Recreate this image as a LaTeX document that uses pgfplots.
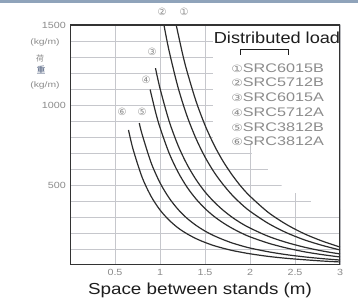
\documentclass[border=0pt]{standalone}
\usepackage{fontspec}
\setmainfont{Liberation Sans}
\newfontfamily\symfont{DejaVu Sans}
\newfontfamily\cjk{Noto Sans CJK JP}
\usepackage{pgfplots}
\pgfplotsset{compat=1.18}
\definecolor{gridc}{HTML}{C6C7CC}
\definecolor{framec}{HTML}{333333}
\definecolor{curvec}{HTML}{2C2C2C}
\definecolor{lbl}{HTML}{8C8C8C}
\definecolor{ttl}{HTML}{1E1E1E}
\definecolor{band}{HTML}{8FA3BA}
\definecolor{kanji}{HTML}{4A5A7A}

\pgfplotstableread{
x y
1.18 1500
1.25 1321
1.3 1211
1.4 1024
1.5 874
1.6 751
1.7 649
1.8 564
1.9 491
2.0 430
2.2 330
2.4 255
2.6 196
2.8 150
3.0 112
}\curveA
\pgfplotstableread{
x y
1.044 1500
1.1 1341
1.2 1111
1.3 932
1.4 790
1.5 675
1.6 581
1.7 504
1.8 438
1.9 383
2.0 336
2.2 261
2.4 203
2.6 158
2.8 123
3.0 94
}\curveB
\pgfplotstableread{
x y
0.95 1230
1.0 1104
1.1 902
1.2 748
1.3 629
1.4 534
1.5 457
1.6 395
1.7 343
1.8 299
1.9 262
2.0 231
2.2 180
2.4 142
2.6 112
2.8 88
3.0 69
}\curveC
\pgfplotstableread{
x y
0.89 1097
0.95 957
1.0 859
1.1 701
1.2 581
1.3 487
1.4 413
1.5 353
1.6 304
1.7 264
1.8 230
1.9 201
2.0 176
2.2 137
2.4 107
2.6 83
2.8 65
3.0 50
}\curveD
\pgfplotstableread{
x y
0.77 887
0.8 819
0.9 641
1.0 514
1.1 420
1.2 348
1.3 292
1.4 248
1.5 212
1.6 183
1.7 159
1.8 138
1.9 121
2.0 106
2.2 83
2.4 65
2.6 51
2.8 40
3.0 31
}\curveE
\pgfplotstableread{
x y
0.65 844
0.7 725
0.8 550
0.9 430
1.0 344
1.1 281
1.2 232
1.3 195
1.4 165
1.5 141
1.6 121
1.7 105
1.8 91
1.9 80
2.0 70
2.2 54
2.4 42
2.6 33
2.8 25
3.0 19
}\curveF

\begin{document}
\begin{tikzpicture}[x=1bp,y=1bp]
\path[use as bounding box] (0,0) rectangle (358,300);
\fill[white] (0,0) rectangle (358,300);
\fill[band] (0,297) rectangle (358,300);
\begin{axis}[
  at={(70bp,35bp)}, anchor=south west,
  scale only axis, width=270bp, height=240bp,
  xmin=0, xmax=3, ymin=0, ymax=1500,
  xtick={0.5,1,1.5,2,2.5,3},
  xticklabels={0.5,1,1.5,2,2.5,3},
  ytick={500,1000,1500},
  yticklabels={500,1000,1500},
  minor ytick={100,200,300,400,600,700,800,900,1100,1200,1300,1400},
  xmajorgrids, ymajorgrids, yminorgrids,
  major grid style={gridc, line width=0.8bp},
  minor grid style={gridc, line width=0.8bp},
  major tick length=0pt, minor tick length=0pt,
  axis line style={draw=none},
  /pgf/number format/assume math mode=true,
  ticklabel style={font=\fontsize{9}{9}\selectfont, text=lbl, xscale=1.2},
  xticklabel style={yshift=-1bp},
  clip=true,
]
\addplot[fill=white, draw=none] coordinates {
 (1.59,1500) (3,1500) (3,350) (2.68,350) (2.68,450) (2.35,450) (2.35,550)
 (2.2,550) (2.2,650) (2.02,650) (2.02,760) (1.59,760) } -- cycle;
\addplot[curvec, line width=1.2bp, smooth] table {\curveA};
\addplot[curvec, line width=1.2bp, smooth] table {\curveB};
\addplot[curvec, line width=1.2bp, smooth] table {\curveC};
\addplot[curvec, line width=1.2bp, smooth] table {\curveD};
\addplot[curvec, line width=1.2bp, smooth] table {\curveE};
\addplot[curvec, line width=1.2bp, smooth] table {\curveF};
\draw[framec, line width=2bp] (rel axis cs:0,0) rectangle (rel axis cs:1,1);
\end{axis}
% legend
\node[text=ttl, font=\fontsize{16}{16}\selectfont, xscale=1.14] at (277,262) {Distributed load};
\draw[ttl, line width=1bp] (240,245) -- (240,250) -- (288,250) -- (288,245);
\begin{scope}[every node/.style={anchor=west, text=lbl, font=\fontsize{12.5}{12.5}\selectfont, xscale=1.3, inner sep=0pt}]
\node at (231,232.0) {{\symfont\fontsize{10}{10}\selectfont ①}SRC6015B};
\node at (231,217.3) {{\symfont\fontsize{10}{10}\selectfont ②}SRC5712B};
\node at (231,202.6) {{\symfont\fontsize{10}{10}\selectfont ③}SRC6015A};
\node at (231,187.9) {{\symfont\fontsize{10}{10}\selectfont ④}SRC5712A};
\node at (231,173.2) {{\symfont\fontsize{10}{10}\selectfont ⑤}SRC3812B};
\node at (231,158.5) {{\symfont\fontsize{10}{10}\selectfont ⑥}SRC3812A};
\end{scope}
% curve labels
\begin{scope}[every node/.style={text=lbl, font=\symfont\fontsize{10}{10}\selectfont, inner sep=0pt}]
\node at (162,288) {②};
\node at (184,288) {①};
\node at (152,248) {③};
\node at (146,220) {④};
\node at (122,188) {⑥};
\node at (142,188) {⑤};
\end{scope}
% y unit labels
\node[text=lbl, font=\fontsize{8}{8}\selectfont, xscale=1.3] at (45,258) {(kg/m)};
\node[text=lbl, font=\cjk\fontsize{8}{8}\selectfont] at (40,242) {荷};
\node[text=kanji, font=\cjk\fontsize{9}{9}\selectfont] at (41,230) {重};
\node[text=lbl, font=\fontsize{8}{8}\selectfont, xscale=1.3] at (45,215) {(kg/m)};
% x label
\node[text=ttl, font=\fontsize{16}{16}\selectfont, xscale=1.18] at (200,10) {Space between stands (m)};
\end{tikzpicture}
\end{document}
